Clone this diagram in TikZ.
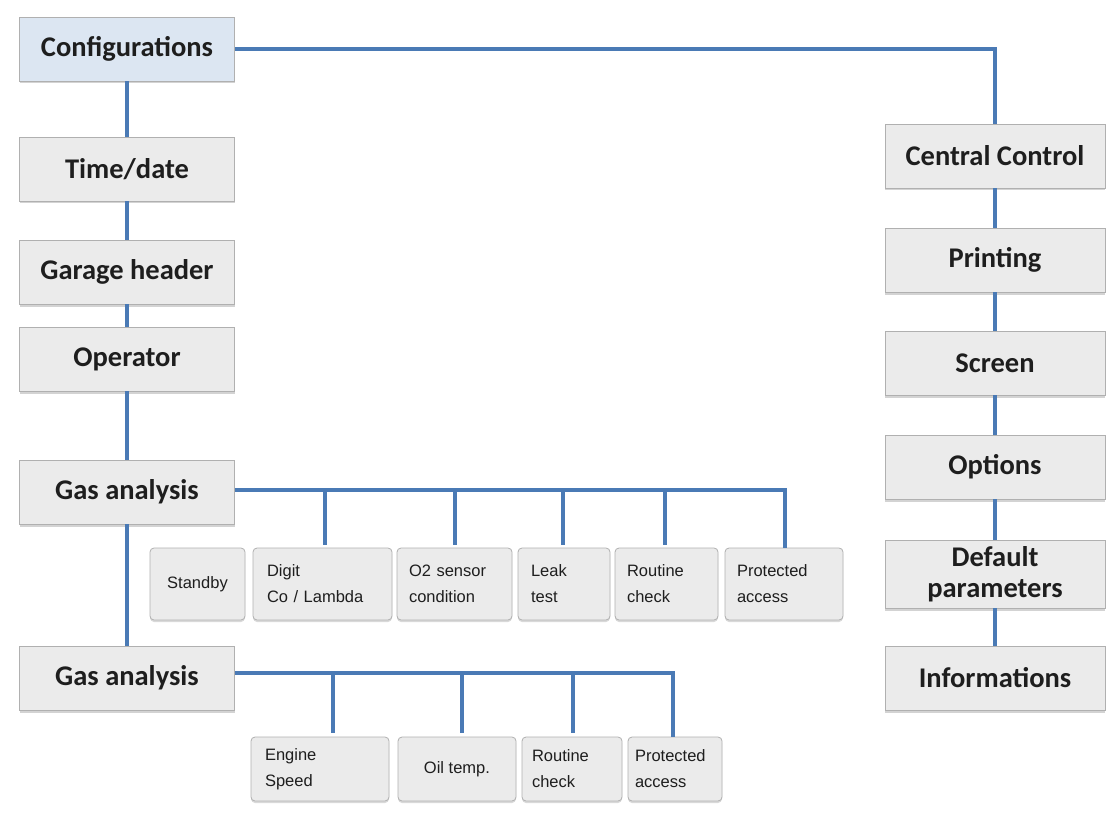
\documentclass[tikz,border=0pt]{standalone}
\usepackage{fontspec}
\setmainfont{Carlito}
\newfontfamily\smallfont{Liberation Sans}
\usetikzlibrary{shadows}
\definecolor{linkblue}{HTML}{4A7AB5}
\definecolor{boxfill}{HTML}{EBEBEB}
\definecolor{boxedge}{HTML}{B0B0B0}
\definecolor{confblue}{HTML}{DCE6F2}
\definecolor{txt}{HTML}{1E1E1E}
\tikzset{
  bigbox/.style={draw=boxedge, fill=boxfill, line width=0.8pt,
    minimum width=215pt, minimum height=64pt, inner sep=2pt,
    font=\bfseries\fontsize{28.5}{30}\selectfont, text=txt, align=center,
    drop shadow={opacity=0.35, shadow xshift=0pt, shadow yshift=-2.5pt}},
  smallbox/.style={draw=boxedge, fill=boxfill, line width=0.8pt, rounded corners=4pt,
    minimum height=72pt, inner sep=0pt,
    font=\smallfont\fontsize{16.5}{26}\selectfont, text=txt,
    drop shadow={opacity=0.3, shadow xshift=0pt, shadow yshift=-2pt}},
  link/.style={draw=linkblue, line width=3.4pt}
}
\begin{document}
\begin{tikzpicture}[x=1pt,y=-1pt]
\useasboundingbox (0,0) rectangle (1113,821);
% left column
\node[bigbox, fill=confblue] (conf) at (127,49) {Configurations};
\node[bigbox] (time) at (127,169) {Time/date};
\node[bigbox] (garage) at (127,272) {Garage header};
\node[bigbox] (oper) at (127,359) {Operator};
\node[bigbox] (gas1) at (127,492) {Gas analysis};
\node[bigbox] (gas2) at (127,678) {Gas analysis};
% right column
\node[bigbox, minimum width=220pt] (cc) at (995,156) {Central Control};
\node[bigbox, minimum width=220pt] (print) at (995,260) {Printing};
\node[bigbox, minimum width=220pt] (screen) at (995,363) {Screen};
\node[bigbox, minimum width=220pt] (opt) at (995,467) {Options};
\node[bigbox, minimum width=220pt, minimum height=68pt, font=\bfseries\fontsize{28.5}{31}\selectfont] (defp) at (995,574) {Default\\parameters};
\node[bigbox, minimum width=220pt] (info) at (995,678) {Informations};
% small boxes row 1
\node[smallbox, minimum width=95pt, align=center] (stby) at (197.5,584) {Standby};
\node[smallbox, minimum width=139pt, text width=111pt, align=left] (digit) at (322.5,584) {Digit\\Co / Lambda};
\node[smallbox, minimum width=115pt, text width=91pt, align=left] (o2) at (454.5,584) {O2 sensor\\condition};
\node[smallbox, minimum width=92pt, text width=66pt, align=left] (leak) at (564,584) {Leak\\test};
\node[smallbox, minimum width=103pt, text width=79pt, align=left] (rout1) at (666.5,584) {Routine\\check};
\node[smallbox, minimum width=118pt, text width=94pt, align=left] (prot1) at (784,584) {Protected\\access};
% small boxes row 2
\node[smallbox, minimum width=138pt, minimum height=64pt, text width=110pt, align=left] (eng) at (320,769) {Engine\\Speed};
\node[smallbox, minimum width=118pt, minimum height=64pt, align=center] (oil) at (457,769) {Oil temp.};
\node[smallbox, minimum width=100pt, minimum height=64pt, text width=80pt, align=left] (rout2) at (572,769) {Routine\\check};
\node[smallbox, minimum width=94pt, minimum height=64pt, text width=80pt, align=left] (prot2) at (675,769) {Protected\\access};
% coordinates
\coordinate (c1) at (995,49);
\coordinate (b1) at (785,490);
\coordinate (b2) at (673,673);
% connectors
\draw[link] (conf.south) -- (time.north);
\draw[link] (time.south) -- (garage.north);
\draw[link] (garage.south) -- (oper.north);
\draw[link] (oper.south) -- (gas1.north);
\draw[link] (gas1.south) -- (gas2.north);
\draw[link] (conf.east) -- (c1) -- (cc.north);
\draw[link] (cc.south) -- (print.north);
\draw[link] (print.south) -- (screen.north);
\draw[link] (screen.south) -- (opt.north);
\draw[link] (opt.south) -- (defp.north);
\draw[link] (defp.south) -- (info.north);
% gas analysis 1 bracket
\draw[link] (gas1.east |- b1) -- (b1) -- (b1 |- prot1.north);
\draw[link] (325,490) -- (325,545);
\draw[link] (455,490) -- (455,545);
\draw[link] (563,490) -- (563,545);
\draw[link] (665,490) -- (665,545);
% gas analysis 2 bracket
\draw[link] (gas2.east |- b2) -- (b2) -- (b2 |- prot2.north);
\draw[link] (333,673) -- (333,733);
\draw[link] (462,673) -- (462,733);
\draw[link] (573,673) -- (573,733);
\end{tikzpicture}
\end{document}
